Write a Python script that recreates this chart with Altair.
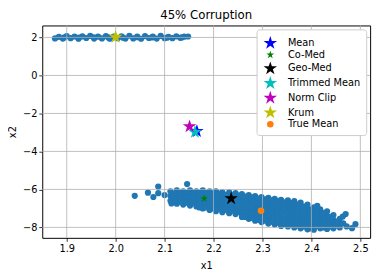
import altair as alt
import pandas as pd

# ---- data ----
upper_x = [1.876, 1.884, 1.892, 1.9, 1.908, 1.916, 1.924, 1.932, 1.94, 1.948,
           1.956, 1.964, 1.972, 1.98, 1.988, 1.996, 2.004, 2.012, 2.02, 2.028,
           2.036, 2.044, 2.052, 2.06, 2.068, 2.076, 2.084, 2.092, 2.1, 2.108,
           2.116, 2.124, 2.132, 2.14, 2.148,
           1.895, 1.925, 1.955, 1.985, 2.015, 2.045, 2.075, 2.105, 2.135]
upper_y = [1.95, 2.03, 1.94, 2.07, 1.96, 2.05, 1.93, 2.06, 1.97, 2.08,
           1.94, 2.04, 1.95, 2.07, 1.93, 2.05, 1.96, 2.06, 1.94, 2.09,
           1.95, 2.04, 1.93, 2.07, 1.97, 2.05, 1.94, 2.08, 1.96, 2.03,
           1.96, 2.06, 1.98, 2.04, 2.05,
           2.0, 1.99, 2.01, 2.0, 1.99, 2.01, 2.0, 1.99, 2.0]

lower_col_x = [2.112, 2.125, 2.138, 2.152, 2.165, 2.178, 2.192, 2.205, 2.218, 2.232,
               2.245, 2.258, 2.272, 2.285, 2.298, 2.312, 2.325, 2.338, 2.352, 2.365,
               2.378, 2.392, 2.405, 2.418, 2.432, 2.445, 2.458]
lower_col_y = [
    [-6.1, -6.35, -6.6],
    [-6.05, -6.3, -6.55, -6.75],
    [-6.1, -6.35, -6.6, -6.8],
    [-6.05, -6.3, -6.55, -6.85],
    [-6.1, -6.35, -6.6, -6.9],
    [-6.05, -6.3, -6.55, -6.8, -7.0],
    [-6.1, -6.35, -6.6, -6.85, -7.08],
    [-6.1, -6.35, -6.6, -6.85, -7.15],
    [-6.15, -6.4, -6.65, -6.9, -7.2],
    [-6.15, -6.4, -6.65, -6.95, -7.25],
    [-6.2, -6.45, -6.7, -7.0, -7.3],
    [-6.25, -6.5, -6.75, -7.05, -7.35, -7.45],
    [-6.3, -6.55, -6.8, -7.1, -7.4, -7.55],
    [-6.35, -6.6, -6.85, -7.15, -7.45, -7.65],
    [-6.4, -6.65, -6.9, -7.2, -7.5, -7.72],
    [-6.45, -6.7, -6.95, -7.25, -7.55, -7.8],
    [-6.5, -6.75, -7.0, -7.3, -7.6, -7.85],
    [-6.55, -6.8, -7.05, -7.35, -7.65, -7.92],
    [-6.58, -6.85, -7.1, -7.4, -7.7, -7.95],
    [-6.62, -6.9, -7.15, -7.45, -7.75, -8.0],
    [-6.7, -6.95, -7.2, -7.5, -7.8, -8.05],
    [-6.8, -7.05, -7.3, -7.55, -7.85, -8.1],
    [-6.95, -7.2, -7.45, -7.7, -7.95, -8.12],
    [-7.05, -7.3, -7.55, -7.8, -8.05],
    [-7.15, -7.4, -7.65, -7.9, -8.08],
    [-7.35, -7.6, -7.85, -8.05],
    [-7.55, -7.8, -8.0],
]
lower_mid_x = [2.118, 2.131, 2.145, 2.158, 2.171, 2.185, 2.198, 2.211, 2.225, 2.238,
               2.251, 2.265, 2.278, 2.291, 2.305, 2.318, 2.331, 2.345, 2.358, 2.371,
               2.385, 2.398, 2.411, 2.425, 2.438, 2.451]
lower_mid_y = [
    [-6.22, -6.48],
    [-6.18, -6.42, -6.65],
    [-6.2, -6.45, -6.7],
    [-6.18, -6.42, -6.7],
    [-6.2, -6.45, -6.72, -6.95],
    [-6.2, -6.45, -6.7, -6.95],
    [-6.22, -6.48, -6.72, -7.0],
    [-6.22, -6.48, -6.75, -7.02],
    [-6.28, -6.52, -6.8, -7.08],
    [-6.3, -6.55, -6.82, -7.12],
    [-6.32, -6.58, -6.88, -7.18],
    [-6.38, -6.62, -6.92, -7.22, -7.45],
    [-6.42, -6.68, -6.98, -7.28, -7.5],
    [-6.48, -6.75, -7.02, -7.32, -7.6],
    [-6.52, -6.8, -7.08, -7.38, -7.65],
    [-6.58, -6.85, -7.12, -7.42, -7.7],
    [-6.62, -6.9, -7.18, -7.48, -7.75],
    [-6.68, -6.95, -7.22, -7.52, -7.82],
    [-6.72, -7.0, -7.28, -7.58, -7.85],
    [-6.8, -7.05, -7.32, -7.62, -7.9],
    [-6.9, -7.15, -7.42, -7.7, -7.95],
    [-7.05, -7.3, -7.58, -7.82, -8.05],
    [-7.15, -7.4, -7.65, -7.9],
    [-7.25, -7.5, -7.78, -8.0],
    [-7.45, -7.72, -7.95],
    [-7.7, -7.9],
]
outlier_x = [2.039, 2.066, 2.077, 2.087, 2.087, 2.1, 2.114, 2.146, 2.412,
             2.464, 2.465, 2.49, 2.483, 2.472, 2.47]
outlier_y = [-6.34, -6.17, -6.4, -5.85, -6.2, -6.3, -6.74, -5.72, -6.86,
             -7.43, -7.78, -7.83, -8.04, -7.95, -7.3]

est_names = ["Mean", "Co-Med", "Geo-Med", "Trimmed Mean", "Norm Clip", "Krum", "True Mean"]
est_x = [2.166, 2.181, 2.236, 2.162, 2.151, 2.0, 2.297]
est_y = [-2.94, -6.48, -6.48, -2.98, -2.69, 2.02, -7.12]
est_colors = ["#0000ff", "#008000", "#000000", "#00bfbf", "#bf00bf", "#bfbf00", "#ff7f0e"]
STAR = ("M0,-1 L0.2245,-0.309 L0.9511,-0.309 L0.3633,0.118 L0.5878,0.809 "
        "L0,0.382 L-0.5878,0.809 L-0.3633,0.118 L-0.9511,-0.309 L-0.2245,-0.309 Z")
est_shapes = [STAR, STAR, STAR, STAR, STAR, STAR, "circle"]
est_sizes = [210, 70, 210, 210, 210, 210, 45]
est_order = [1, 2, 3, 4, 5, 6, 7]

x_ticks = [1.9, 2.0, 2.1, 2.2, 2.3, 2.4, 2.5]
y_ticks = [-8, -6, -4, -2, 0, 2]

# ---- tables ----
rows = [{"x1": x, "x2": y} for x, y in zip(upper_x, upper_y)]
for cx, ys in zip(lower_col_x, lower_col_y):
    rows += [{"x1": cx, "x2": y} for y in ys]
for cx, ys in zip(lower_mid_x, lower_mid_y):
    rows += [{"x1": cx, "x2": y} for y in ys]
rows += [{"x1": x, "x2": y} for x, y in zip(outlier_x, outlier_y)]
cloud = pd.DataFrame(rows)
est = pd.DataFrame({"name": est_names, "x1": est_x, "x2": est_y, "ord": est_order})

xs = alt.Scale(domain=[1.85, 2.52], nice=False, zero=False)
ysc = alt.Scale(domain=[-8.55, 2.63], nice=False, zero=False)

scatter = alt.Chart(cloud).mark_circle(size=40, color="#1f77b4", opacity=1).encode(
    x=alt.X("x1:Q", scale=xs,
            axis=alt.Axis(values=x_ticks, format=".1f", title="x1", titlePadding=8)),
    y=alt.Y("x2:Q", scale=ysc, axis=alt.Axis(values=y_ticks, format="d", title="x2")),
)

vgrid = alt.Chart(pd.DataFrame({"x1": x_ticks})).mark_rule(
    color="#b0b0b0", strokeWidth=0.8).encode(x=alt.X("x1:Q", scale=xs))
hgrid = alt.Chart(pd.DataFrame({"x2": y_ticks})).mark_rule(
    color="#b0b0b0", strokeWidth=0.8).encode(y=alt.Y("x2:Q", scale=ysc))

legend = alt.Legend(title=None, orient="top-right", offset=4, fillColor="white",
                    strokeColor="#cccccc", cornerRadius=3, padding=6,
                    labelFontSize=10, labelFont="DejaVu Sans", labelColor="black",
                    rowPadding=1, labelOffset=10)

marks = alt.Chart(est).mark_point(filled=True, opacity=1, strokeWidth=0.6).encode(
    x=alt.X("x1:Q", scale=xs),
    y=alt.Y("x2:Q", scale=ysc),
    color=alt.Color("name:N", sort=est_names,
                    scale=alt.Scale(type="ordinal", domain=est_names, range=est_colors),
                    legend=legend),
    shape=alt.Shape("name:N", sort=est_names,
                    scale=alt.Scale(type="ordinal", domain=est_names, range=est_shapes),
                    legend=legend),
    size=alt.Size("name:N", sort=est_names,
                  scale=alt.Scale(type="ordinal", domain=est_names, range=est_sizes),
                  legend=legend),
    order=alt.Order("ord:Q"),
)

chart = alt.layer(scatter, vgrid, hgrid, marks).properties(
    width=335, height=217,
    title=alt.Title("45% Corruption", fontSize=12, fontWeight="normal",
                    font="DejaVu Sans", color="black", offset=3),
    padding={"left": 35, "top": 15, "right": 6, "bottom": 30},
    autosize="none",
).configure_view(stroke="black", strokeWidth=1).configure_axis(
    grid=False, domain=False, tickColor="black", tickSize=3.5, tickWidth=0.8,
    labelFontSize=10, labelFont="DejaVu Sans", labelColor="black", labelPadding=2,
    titleFontSize=10, titleFont="DejaVu Sans", titleFontWeight="normal",
    titleColor="black", titlePadding=5,
)

chart.save("out.html", embed_options={"renderer": "svg", "actions": False})
